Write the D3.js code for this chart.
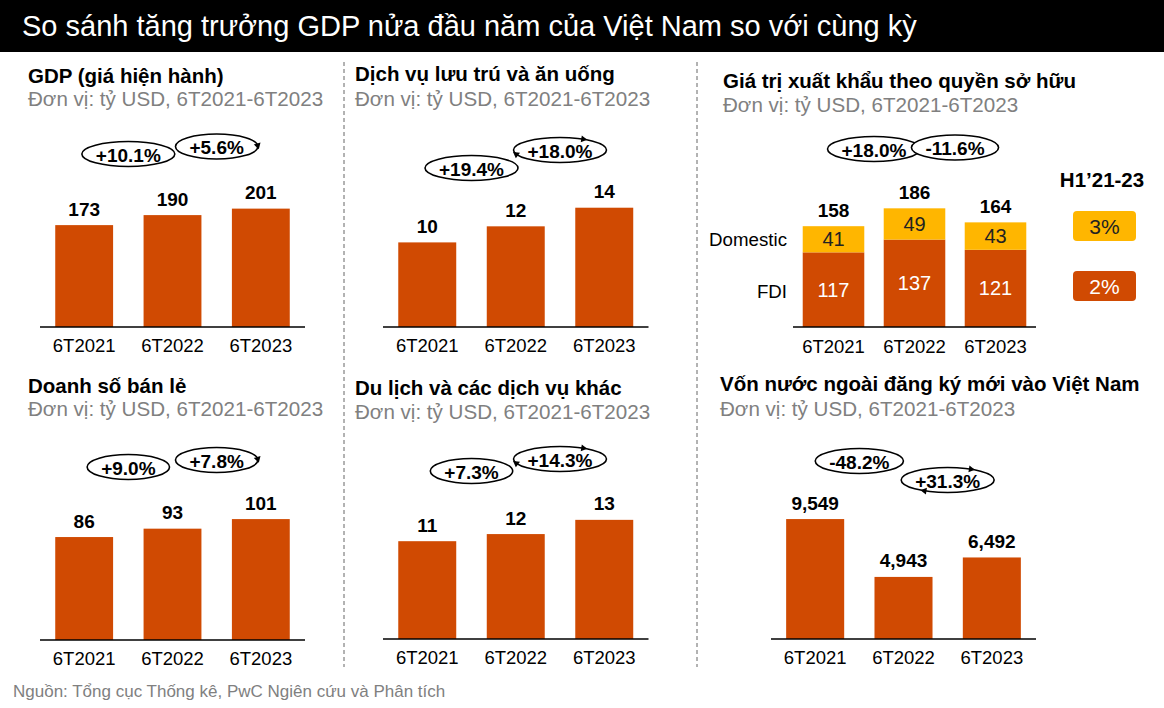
<!DOCTYPE html>
<html><head><meta charset="utf-8">
<script src="https://cdn.jsdelivr.net/npm/d3@7"></script>
<style>
html,body{margin:0;padding:0;background:#fff;}
svg{display:block;font-family:"Liberation Sans",Arial,sans-serif;}
</style></head>
<body>
<svg id="chart" width="1164" height="708"></svg>
<script>
// ---------- DATA ----------
const mainTitle = "So sánh tăng trưởng GDP nửa đầu năm của Việt Nam so với cùng kỳ";
const subtitleText = "Đơn vị: tỷ USD, 6T2021-6T2023";
const sourceText = "Nguồn: Tổng cục Thống kê, PwC Ngiên cứu và Phân tích";
const periods = ["6T2021", "6T2022", "6T2023"];

const gdpValues = [173, 190, 201];
const gdpGrowth = ["+10.1%", "+5.6%"];

const accomValues = [10.0, 11.9, 14.1];
const accomGrowth = ["+19.4%", "+18.0%"];

const retailValues = [86, 93, 101];
const retailGrowth = ["+9.0%", "+7.8%"];

const tourismValues = [11.0, 11.8, 13.4];
const tourismGrowth = ["+7.3%", "+14.3%"];

const fdiCapitalValues = [9549, 4943, 6492];
const fdiCapitalGrowth = ["-48.2%", "+31.3%"];

const exportSeries = ["FDI", "Domestic"];
const exportFDI = [117, 137, 121];
const exportDomestic = [41, 49, 43];
const exportTotals = [158, 186, 164];
const exportGrowth = ["+18.0%", "-11.6%"];
const cagrTitle = "H1’21-23";
const cagrLabels = ["3%", "2%"]; // Domestic, FDI

// ---------- STYLE ----------
const ORANGE = "#D04A02", YELLOW = "#FFB600", GRAY = "#808080";
const FONT = "Liberation Sans, Arial, sans-serif";
const svg = d3.select("#chart");

svg.append("rect").attr("x",0).attr("y",0).attr("width",1164).attr("height",52).attr("fill","#000");
svg.append("text").attr("x",22).attr("y",26).attr("dominant-baseline","central")
  .attr("fill","#fff").attr("font-size",29).text(mainTitle);

// separators
[344, 697].forEach(x => svg.append("line").attr("x1",x).attr("x2",x).attr("y1",62).attr("y2",667)
  .attr("stroke","#666").attr("stroke-width",1).attr("stroke-dasharray","4,3"));

svg.append("text").attr("x",13).attr("y",691).attr("dominant-baseline","central")
  .attr("fill",GRAY).attr("font-size",17).text(sourceText);

function headings(g, title, tx, ty, sy) {
  g.append("text").attr("x",tx).attr("y",ty).attr("dominant-baseline","central")
    .attr("font-weight","bold").attr("font-size",20.5).attr("fill","#000").text(title);
  g.append("text").attr("x",tx).attr("y",sy).attr("dominant-baseline","central")
    .attr("font-size",20.6).attr("fill",GRAY).text(subtitleText);
}

function growthBubbles(g, x, growth, cys, arrows) {
  growth.forEach((t, i) => {
    const cx = (x(periods[i]) + x(periods[i+1]) + x.bandwidth()) / 2;
    const cy = cys[i];
    const tt = g.append("text").attr("x",cx).attr("y",cy+1).attr("text-anchor","middle")
      .attr("dominant-baseline","central").attr("font-weight","bold").attr("font-size",19).text(t);
    const w = tt.node().getComputedTextLength();
    const rx = w/2 + 14, ry = 12.5;
    g.insert("ellipse","text").attr("cx",cx).attr("cy",cy).attr("rx",rx).attr("ry",ry)
      .attr("fill","#fff").attr("stroke","#000").attr("stroke-width",1.6);
    if (arrows && i === 1) {
      arrows.forEach(a => {
        const ang = a * Math.PI/180;
        const px = cx + rx*Math.cos(ang), py = cy + ry*Math.sin(ang);
        const tx = -rx*Math.sin(ang), ty = ry*Math.cos(ang);
        const L = Math.hypot(tx,ty), ux = tx/L, uy = ty/L;
        g.append("path").attr("d",
          `M${px+ux*4},${py+uy*4} L${px-ux*2 - uy*3.5},${py-uy*2 + ux*3.5} L${px-ux*2 + uy*3.5},${py-uy*2 - ux*3.5}Z`)
          .attr("fill","#000");
      });
    }
  });
}

function barPanel(cfg) {
  const g = svg.append("g");
  headings(g, cfg.title, cfg.tx, cfg.ty, cfg.sy);
  const x = d3.scaleBand().domain(periods).range([cfg.x0, cfg.x1]).paddingInner(cfg.pad).paddingOuter(cfg.pad/2);
  const y = d3.scaleLinear().domain([0, cfg.yMax]).range([cfg.base, cfg.base - 150]);
  g.selectAll("rect.bar").data(cfg.values).join("rect").attr("class","bar")
    .attr("x",(d,i)=>x(periods[i])).attr("width",x.bandwidth())
    .attr("y",d=>y(d)).attr("height",d=>y(0)-y(d)).attr("fill",ORANGE);
  g.selectAll("text.val").data(cfg.values).join("text").attr("class","val")
    .attr("x",(d,i)=>x(periods[i])+x.bandwidth()/2).attr("y",d=>y(d)-16)
    .attr("text-anchor","middle").attr("dominant-baseline","central")
    .attr("font-weight","bold").attr("font-size",19).text(d=>cfg.fmt(d));
  const ax = g.append("g").attr("transform",`translate(0,${cfg.base})`)
    .call(d3.axisBottom(x).tickSize(0).tickPadding(0));
  ax.select(".domain").attr("stroke","#000").attr("stroke-width",1.5).attr("d",`M${cfg.x0},0H${cfg.x1}`);
  ax.selectAll(".tick text").attr("font-size",18.5).attr("fill","#000").attr("font-family",FONT)
    .attr("dy",null).attr("y",18).attr("dominant-baseline","central");
  growthBubbles(g, x, cfg.growth, cfg.gy, cfg.arrows);
}

const f0 = d3.format(".0f"), fc = d3.format(",.0f");

barPanel({title:"GDP (giá hiện hành)", tx:28, ty:75, sy:98, values:gdpValues, x0:40, x1:305, pad:0.345,
  base:327, yMax:254.7, fmt:f0, growth:gdpGrowth, gy:[154,146.5], arrows:[-5]});
barPanel({title:"Dịch vụ lưu trú và ăn uống", tx:355, ty:73, sy:98, values:accomValues, x0:383, x1:648.5, pad:0.345,
  base:327, yMax:17.73, fmt:f0, growth:accomGrowth, gy:[168,150], arrows:[-60, 160]});
barPanel({title:"Doanh số bán lẻ", tx:28, ty:385, sy:408, values:retailValues, x0:40, x1:305, pad:0.345,
  base:640, yMax:125.3, fmt:f0, growth:retailGrowth, gy:[467,460], arrows:[-5]});
barPanel({title:"Du lịch và các dịch vụ khác", tx:355, ty:387, sy:411, values:tourismValues, x0:383, x1:648.5, pad:0.345,
  base:639, yMax:16.87, fmt:f0, growth:tourismGrowth, gy:[471,459], arrows:[-60, 160]});
barPanel({title:"Vốn nước ngoài đăng ký mới vào Việt Nam", tx:720, ty:383, sy:408, values:fdiCapitalValues, x0:771, x1:1036, pad:0.343,
  base:639, yMax:11943, fmt:fc, growth:fdiCapitalGrowth, gy:[461,480], arrows:[-60, 120]});

// ---------- stacked export panel ----------
(function(){
  const g = svg.append("g");
  headings(g, "Giá trị xuất khẩu theo quyền sở hữu", 723, 80, 104);
  const x0 = 793, x1 = 1036, base = 327;
  const x = d3.scaleBand().domain(periods).range([x0, x1]).paddingInner(0.24).paddingOuter(0.12);
  const y = d3.scaleLinear().domain([0, 235.1]).range([base, base-150]);
  const rows = periods.map((p,i)=>({period:p, FDI:exportFDI[i], Domestic:exportDomestic[i]}));
  const stacked = d3.stack().keys(exportSeries)(rows);
  const colors = {FDI:ORANGE, Domestic:YELLOW};
  const txtColors = {FDI:"#fff", Domestic:"#222"};
  stacked.forEach(layer => {
    g.selectAll(null).data(layer).join("rect")
      .attr("x",d=>x(d.data.period)).attr("width",x.bandwidth())
      .attr("y",d=>y(d[1])).attr("height",d=>y(d[0])-y(d[1])).attr("fill",colors[layer.key]);
    g.selectAll(null).data(layer).join("text")
      .attr("x",d=>x(d.data.period)+x.bandwidth()/2).attr("y",d=>(y(d[0])+y(d[1]))/2)
      .attr("text-anchor","middle").attr("dominant-baseline","central")
      .attr("font-size",20).attr("fill",txtColors[layer.key]).text(d=>d[1]-d[0]);
  });
  g.selectAll(null).data(exportTotals).join("text")
    .attr("x",(d,i)=>x(periods[i])+x.bandwidth()/2).attr("y",d=>y(d)-16)
    .attr("text-anchor","middle").attr("dominant-baseline","central")
    .attr("font-weight","bold").attr("font-size",19).text(d=>d);
  const first = rows[0];
  g.append("text").attr("x",787).attr("y",(y(first.FDI)+y(first.FDI+first.Domestic))/2).attr("text-anchor","end")
    .attr("dominant-baseline","central").attr("font-size",18.7).text("Domestic");
  g.append("text").attr("x",787).attr("y",(y(0)+y(first.FDI))/2 + 2).attr("text-anchor","end")
    .attr("dominant-baseline","central").attr("font-size",18.7).text("FDI");
  const ax = g.append("g").attr("transform",`translate(0,${base})`).call(d3.axisBottom(x).tickSize(0).tickPadding(0));
  ax.select(".domain").attr("stroke","#000").attr("stroke-width",1.5).attr("d",`M${x0},0H${x1}`);
  ax.selectAll(".tick text").attr("font-size",18.5).attr("fill","#000").attr("font-family",FONT)
    .attr("dy",null).attr("y",19).attr("dominant-baseline","central");
  growthBubbles(g, x, exportGrowth, [149,147.5], null);
  g.append("text").attr("x",1102).attr("y",179).attr("text-anchor","middle").attr("dominant-baseline","central")
    .attr("font-weight","bold").attr("font-size",20.5).text(cagrTitle);
  const boxes = [{y:211, fill:YELLOW, tc:"#222", t:cagrLabels[0]},{y:271, fill:ORANGE, tc:"#fff", t:cagrLabels[1]}];
  boxes.forEach(b=>{
    g.append("rect").attr("x",1073).attr("y",b.y).attr("width",63).attr("height",30).attr("rx",4).attr("fill",b.fill);
    g.append("text").attr("x",1104.5).attr("y",b.y+15).attr("text-anchor","middle").attr("dominant-baseline","central")
      .attr("font-size",21).attr("fill",b.tc).text(b.t);
  });
})();
</script>
</body></html>
